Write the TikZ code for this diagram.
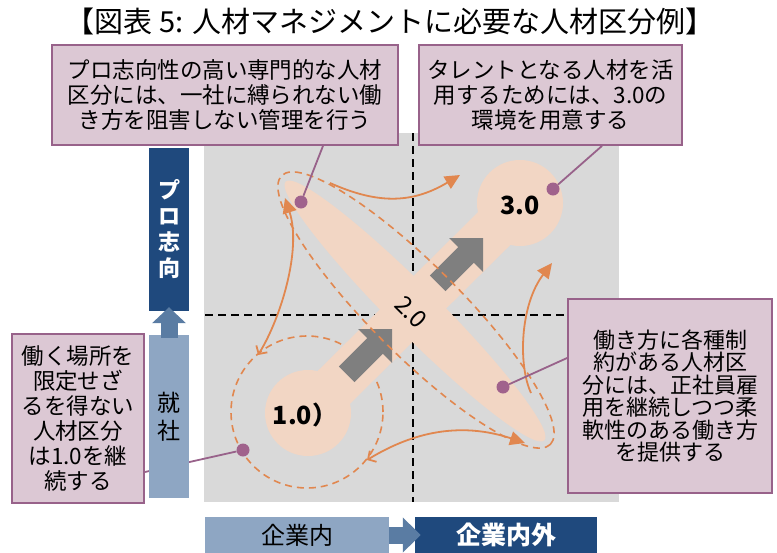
\documentclass[tikz,border=0pt]{standalone}
\usepackage{fontspec}
\setmainfont{Noto Sans CJK JP}
\usetikzlibrary{arrows.meta,calc}
\definecolor{bggray}{HTML}{D9D9D9}
\definecolor{peach}{HTML}{F2D6C4}
\definecolor{orng}{HTML}{E1874F}
\definecolor{agray}{HTML}{7F7F7F}
\definecolor{dblue}{HTML}{1F497D}
\definecolor{lblue}{HTML}{8EA6C3}
\definecolor{mblue}{HTML}{5A7CA3}
\definecolor{cfill}{HTML}{DCC8D4}
\definecolor{cline}{HTML}{98628A}
\definecolor{cdot}{HTML}{A0628C}
\tikzset{garrow/.pic={\fill[agray] (0,0) -- (-24,24) -- (-24,11) -- (-64,11) -- (-64,-11) -- (-24,-11) -- (-24,-24) -- cycle;}}
\begin{document}
\begin{tikzpicture}[x=1pt,y=-1pt,
  cbox/.style={draw=cline, line width=1.8pt, fill=cfill, align=center, inner sep=0pt},
  cdotst/.style={circle, fill=cdot, inner sep=0pt, minimum size=13pt},
  callline/.style={draw=cline, line width=1.8pt},
  odash/.style={draw=orng, line width=1.6pt, dash pattern=on 7pt off 5pt},
  ocurve/.style={draw=orng, line width=1.8pt},
  bdash/.style={draw=black, line width=1.8pt, dash pattern=on 8pt off 5pt},
  barbox/.style={inner sep=0pt, align=center},
  tri/.tip={Triangle[length=15pt,width=14pt]},
  barb/.tip={Straight Barb[length=6pt,width=13pt]}
]
\useasboundingbox (0,0) rectangle (777,552);
% background plot area
\fill[bggray] (204,133) rectangle (619,502);
\draw[bdash] (413,133) -- (413,502);
\draw[bdash] (205,315) -- (619,315);
% dashed circle around 1.0
\draw[odash] (307,412) circle[radius=76pt];
% peach shapes
\fill[peach] (308,413) circle[radius=43pt];
\fill[peach] (520,203) circle[radius=43pt];
\draw[peach, line width=46pt] (308,413) -- (520,203);
\fill[peach, rotate around={-45:(415,311)}] (415,311) ellipse [x radius=183pt, y radius=24pt];
% gray block arrows
\pic[rotate=45] at (392,329) {garrow};
\pic[rotate=45] at (483,238) {garrow};
% dashed ellipse
\draw[odash, rotate around={-45:(416,310)}] (416,310) ellipse [x radius=190pt, y radius=45pt];
% orange curves
\draw[ocurve, -tri] (330,183) .. controls (375,203) and (410,205) .. (460,175);
\draw[ocurve, barb-tri] (258,355) .. controls (280,320) and (302,250) .. (285,198);
\draw[ocurve, -tri] (531,393) .. controls (518,365) and (520,305) .. (552,263);
\draw[ocurve, barb-tri] (367,460) .. controls (400,440) and (450,418) .. (525,443);
% numbers
\node[font=\bfseries\fontsize{25}{25}\selectfont] (n1) at (305,415) {1.0）};
\node[font=\bfseries\fontsize{25}{25}\selectfont] (n3) at (520,205) {3.0};
\node[font=\fontsize{24}{24}\selectfont, rotate=-45, inner sep=0pt] (n2) at (411,312) {2.0};
% title
\node[font=\fontsize{29}{29}\selectfont] (title) at (390,21) {【図表 5: 人材マネジメントに必要な人材区分例】};
% callouts
\node[cbox, minimum width=346pt, minimum height=100pt, font=\fontsize{22.5}{25}\selectfont] (tl) at (225,95)
  {プロ志向性の高い専門的な人材\\区分には、一社に縛られない働\\き方を阻害しない管理を行う};
\node[cbox, minimum width=263pt, minimum height=100pt, font=\fontsize{22.5}{25}\selectfont] (tr) at (550.5,95)
  {タレントとなる人材を活\\用するためには、3.0の\\環境を用意する};
\node[cbox, minimum width=204pt, minimum height=194pt, font=\fontsize{22}{22.5}\selectfont] (rc) at (670,396)
  {働き方に各種制\\約がある人材区\\分には、正社員雇\\用を継続しつつ柔\\軟性のある働き方\\を提供する};
\node[cbox, minimum width=132pt, minimum height=169pt, font=\fontsize{22.5}{25}\selectfont] (lc) at (78,418.5)
  {働く場所を\\限定せざ\\るを得ない\\人材区分\\は1.0を継\\続する};
% dots and lines
\node[cdotst] (d1) at (301,202) {};
\node[cdotst] (d2) at (553,189) {};
\node[cdotst] (d3) at (503,387) {};
\node[cdotst] (d4) at (243,450) {};
\draw[callline] ([xshift=98pt]tl.south) -- (d1);
\draw[callline] ([xshift=51.5pt]tr.south) -- (d2);
\draw[callline] ([yshift=38pt]rc.west) -- (d3);
\draw[callline] ([yshift=-53.5pt]lc.east) -- (d4);
% left axis bars
\node[barbox, fill=dblue, minimum width=40pt, minimum height=163pt, text=white, font=\bfseries\fontsize{22}{26}\selectfont] (pro) at (169,229.5) {プ\\ロ\\志\\向};
\node[barbox, fill=lblue, minimum width=40pt, minimum height=163pt, font=\fontsize{23}{28}\selectfont] (shu) at (169,416.5) {就\\社};
\draw[mblue, line width=17pt, -{Triangle[length=16pt,width=33pt]}, shorten <=-3pt, shorten >=-4pt] (shu.north) -- (pro.south);
% bottom axis bars
\node[barbox, fill=lblue, minimum width=184pt, minimum height=36pt, font=\fontsize{24}{24}\selectfont] (kn) at (297,535) {企業内};
\node[barbox, fill=dblue, minimum width=182pt, minimum height=36pt, text=white, font=\bfseries\fontsize{25}{25}\selectfont] (knw) at (506,535) {企業内外};
\draw[mblue, line width=17pt, -{Triangle[length=18pt,width=34pt]}, shorten >=-6pt] (kn.east) -- (knw.west);
\end{tikzpicture}
\end{document}
